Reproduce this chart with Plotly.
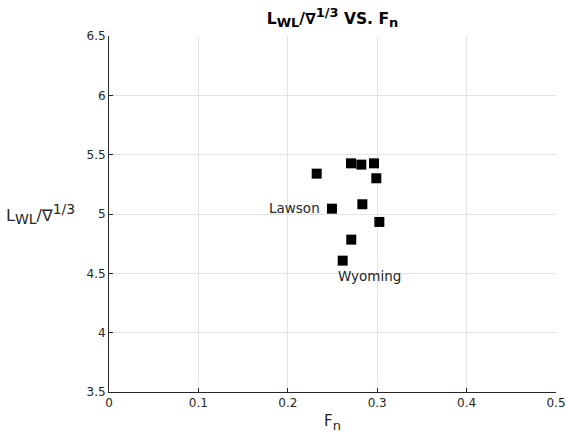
import plotly.graph_objects as go

fn = [0.2323, 0.2707, 0.2822, 0.2964, 0.2990, 0.2834, 0.2494, 0.3024, 0.2710, 0.2614]
lwl = [5.340, 5.427, 5.416, 5.427, 5.301, 5.082, 5.045, 4.933, 4.784, 4.607]
labels = ["", "", "", "", "", "", "Lawson", "", "", "Wyoming"]
xticks = [0, 0.1, 0.2, 0.3, 0.4, 0.5]
yticks = [3.5, 4, 4.5, 5, 5.5, 6, 6.5]

FONT = "DejaVu Sans"
fig = go.Figure()
fig.add_trace(go.Scatter(x=fn, y=lwl, mode="markers",
                         marker=dict(symbol="square", size=10, color="black"),
                         showlegend=False, hoverinfo="skip"))

for x, y, t in zip(fn, lwl, labels):
    if t == "Lawson":
        fig.add_annotation(x=x, y=y, text=t, showarrow=False, xanchor="right",
                           xshift=-10, yshift=1, font=dict(family=FONT, size=13.5, color="#262626"))
    elif t == "Wyoming":
        fig.add_annotation(x=x, y=y, text=t, showarrow=False, xanchor="left",
                           xshift=-7, yshift=-15, font=dict(family=FONT, size=13.5, color="#262626"))

fig.add_annotation(x=0, xref="paper", xanchor="right", y=5, yref="y",
                   text="L<sub><span style='font-size:14px'>WL</span></sub>/∇<sup><span style='font-size:14px'>1/3</span></sup>",
                   showarrow=False, xshift=-32,
                   font=dict(family=FONT, size=16, color="#262626"))

axis_common = dict(showgrid=True, gridcolor="#e3e3e3", gridwidth=1, zeroline=False,
                   showline=True, linecolor="#262626", linewidth=1,
                   ticks="inside", ticklen=4, tickcolor="#262626", automargin=False,
                   tickfont=dict(family=FONT, size=12, color="#262626"))

fig.update_layout(
    width=566, height=441,
    margin=dict(l=109, r=10, t=36, b=49),
    paper_bgcolor="white", plot_bgcolor="white",
    title=dict(text="<b>L<sub><span style='font-size:13px'>WL</span></sub>/∇<sup><span style='font-size:13px'>1/3</span></sup> VS. F<sub><span style='font-size:13px'>n</span></sub></b>",
               x=(109 + 556) / 2 / 566, xanchor="center", y=0.958, yanchor="middle",
               automargin=False,
               font=dict(family=FONT, size=15.5, color="black")),
    xaxis=dict(range=[0, 0.5], tickvals=xticks, ticktext=[str(v) for v in xticks],
               title=dict(text="F<sub><span style='font-size:13px'>n</span></sub>",
                          font=dict(family=FONT, size=15, color="#262626"), standoff=6),
               **axis_common),
    yaxis=dict(range=[3.5, 6.5], tickvals=yticks, ticktext=[str(v) for v in yticks],
               **axis_common),
)
fig.write_html("out.html")
